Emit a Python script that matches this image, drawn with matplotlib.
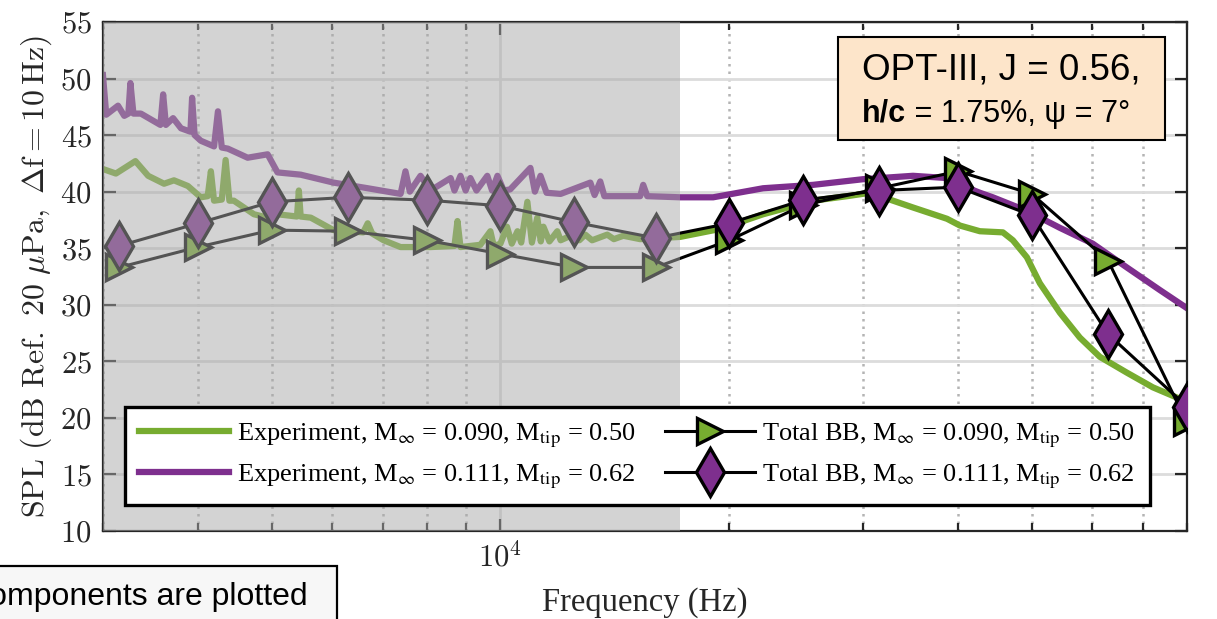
import matplotlib
matplotlib.use('Agg')
import matplotlib.pyplot as plt
from matplotlib.ticker import FuncFormatter, NullFormatter, LogLocator, FixedLocator
from matplotlib.patches import Rectangle

plt.rcParams['mathtext.fontset'] = 'cm'
plt.rcParams['font.family'] = ['Liberation Serif', 'DejaVu Serif']

# Experiment, M = 0.090 (green)
f_exp090 = [3000, 3120, 3310, 3440, 3610, 3720, 3880, 4035, 4120, 4160, 4200, 4300, 4350, 4400,
            4460, 4740, 4940, 5090, 5400, 5430, 5460, 5630, 6030, 6600, 6690, 6780, 7020, 7390,
            8090, 8700, 8780, 8860, 9410, 9700, 9800, 10000, 10200, 10350, 10530, 10650, 10850,
            11000, 11180, 11300, 11390, 11600, 11880, 12000, 12470, 12700, 12930, 13200, 13820,
            14100, 14510, 15270, 17240, 19450, 22160, 25780, 28580, 30640, 32850,
            34890, 38680, 40230, 42730, 45810, 47220, 49260, 51240, 54440, 57830, 61440, 66680,
            72150, 77570, 80000]
spl_exp090 = [42.0, 41.6, 42.7, 41.4, 40.7, 41.0, 40.5, 39.5, 39.6, 41.8, 39.2, 39.3, 42.8, 39.2,
              39.2, 38.0, 37.7, 38.0, 37.8, 40.1, 37.8, 37.7, 36.6, 36.4, 37.2, 36.3, 35.7, 35.1,
              35.1, 35.2, 37.4, 35.1, 35.3, 36.5, 35.2, 35.4, 36.9, 35.4, 36.5, 35.5, 39.1,
              35.5, 37.7, 35.6, 36.9, 35.6, 36.5, 35.7, 36.2, 35.7, 36.2, 35.7, 36.2,
              35.8, 36.1, 35.8, 36.0, 36.7, 38.0, 39.2, 39.6, 39.9, 39.2,
              38.6, 37.6, 37.0, 36.5, 36.4, 35.7, 34.2, 31.9, 29.3, 27.1, 25.4, 24.0,
              22.7, 21.8, 21.5]

# Experiment, M = 0.111 (purple)
f_exp111 = [3000, 3030, 3140, 3200, 3240, 3260, 3290, 3365, 3570, 3600, 3630, 3710, 3800, 3910,
            3930, 3960, 4035, 4200, 4250, 4300, 4380, 4650, 4940, 5090, 5460, 6030, 6690, 7390,
            7500, 7600, 7850, 8090, 8600, 8700, 8860, 9000, 9130, 9300, 9610, 9750, 9910, 10100,
            10300, 10950, 11100, 11290, 11500, 12000, 13130, 13300, 13530, 13700, 15270, 15410,
            15600, 17240, 19050, 22160, 25780, 30000, 34890, 38680, 40230, 42730, 44440, 49260,
            54440, 60150, 66680, 73700, 80000]
spl_exp111 = [50.3, 46.8, 47.6, 46.7, 46.9, 49.6, 46.9, 46.9, 45.9, 48.6, 45.9, 46.5, 45.6, 45.3,
              48.3, 45.0, 44.5, 44.0, 47.1, 43.9, 43.8, 43.0, 43.3, 41.7, 41.5, 40.8, 40.3, 39.8,
              41.8, 40.0, 41.4, 40.1, 41.2, 40.1, 41.4, 40.1, 41.2, 40.1, 41.4, 40.1, 41.4, 40.1,
              40.2, 42.1, 40.0, 41.4, 39.9, 39.8, 40.8, 39.7, 40.9, 39.6, 39.6, 40.6,
              39.6, 39.5, 39.5, 40.3, 40.6, 41.1, 41.4, 41.2, 40.6, 39.9, 39.5, 38.3,
              36.8, 35.4, 33.3, 31.3, 29.7]

# Total BB predictions at 1/3-octave band centres
f_bb = [3150, 4000, 5000, 6300, 8000, 10000, 12500, 16000, 20000, 25000, 31500, 40000,
        50000, 63000, 80000]
bb_090 = [33.3, 35.1, 36.6, 36.5, 35.7, 34.5, 33.3, 33.3, 35.7, 38.8, 40.3, 41.8, 39.8, 33.9, 19.6]
bb_111 = [35.2, 37.2, 39.1, 39.5, 39.25, 38.75, 37.3, 35.9, 37.2, 39.25, 40.1, 40.4, 37.9, 27.4, 21.0]

green = '#77AC30'
purple = '#7E2F8E'

fig = plt.figure(figsize=(12.17, 6.19), dpi=100)
ax = fig.add_axes([0.0846, 0.1422, 0.8907, 0.8223])

l1, = ax.plot(f_exp090, spl_exp090, color=green, lw=4.5, zorder=2,
              label=r'Experiment, M$_{\infty}$ = 0.090, M$_{\rm tip}$ = 0.50')
l2, = ax.plot(f_exp111, spl_exp111, color=purple, lw=4.5, zorder=2,
              label=r'Experiment, M$_{\infty}$ = 0.111, M$_{\rm tip}$ = 0.62')
l3, = ax.plot(f_bb, bb_090, color='k', lw=2.2, marker='>', ms=19, mfc=green, mec='k', mew=2.4,
              zorder=3, label=r'Total BB, M$_{\infty}$ = 0.090, M$_{\rm tip}$ = 0.50')
l4, = ax.plot(f_bb, bb_111, color='k', lw=2.2, marker='d', ms=24, mfc=purple, mec='k', mew=2.4,
              zorder=3, label=r'Total BB, M$_{\infty}$ = 0.111, M$_{\rm tip}$ = 0.62')

# shaded low-frequency region
ax.axvspan(3000, 17240, facecolor='#a8a8a8', alpha=0.5, lw=0, zorder=4)

ax.set_xscale('log')
ax.set_xlim(3000, 80000)
ax.set_ylim(10, 55)
ax.set_yticks(range(10, 56, 5))
ax.yaxis.set_major_formatter(FuncFormatter(lambda v, p: r'$%d$' % v))
ax.xaxis.set_major_locator(FixedLocator([10000]))
ax.xaxis.set_major_formatter(FuncFormatter(lambda v, p: r'$10^4$'))
ax.xaxis.set_minor_locator(LogLocator(base=10, subs=[2, 3, 4, 5, 6, 7, 8, 9], numticks=20))
ax.xaxis.set_minor_formatter(NullFormatter())

ax.set_axisbelow(True)
ax.grid(which='major', color='#dcdcdc', lw=2, ls='-')
ax.grid(which='minor', axis='x', color='#b4b4b4', lw=1.8, ls=(0, (1, 2)))

ax.tick_params(which='both', direction='in', top=True, right=True, color='#262626', width=1.6,
               labelsize=22, labelcolor='#262626')
ax.tick_params(which='major', length=9, pad=8)
ax.tick_params(which='minor', length=6)
for s in ax.spines.values():
    s.set_color('#262626')
    s.set_linewidth(1.6)

ax.set_ylabel(r'$\mathrm{SPL\ (dB\ Ref.\ 20\ }\mu\mathrm{Pa,\ }\Delta\mathrm{f = 10\,Hz)}$',
              fontsize=23, color='#262626', labelpad=5)
ax.set_xlabel('Frequency (Hz)', fontsize=23.5, color='#262626', labelpad=10)

leg = ax.legend(handles=[l1, l2, l3, l4], ncol=2, loc='lower left', bbox_to_anchor=(0.0203, 0.051),
                borderaxespad=0, fontsize=19, frameon=True, fancybox=False, edgecolor='k',
                framealpha=1, handlelength=3.4, columnspacing=1.1, borderpad=0.55,
                labelspacing=0.45, handletextpad=0.3)
leg.get_frame().set_linewidth(2.4)
leg.set_zorder(8)
for t in leg.get_texts():
    t.set_math_fontfamily('stix')

# annotation box
ax.add_patch(Rectangle((0.678, 0.768), 0.302, 0.2025, transform=ax.transAxes,
                       facecolor='#FDE5CA', edgecolor='k', lw=1.5, zorder=6))
ax.text(0.829, 0.905, 'OPT-III, J = 0.56,', transform=ax.transAxes, ha='center', va='center',
        fontsize=26.5, family='Liberation Sans', zorder=7)
t1 = ax.text(0.700, 0.790, 'h/c', transform=ax.transAxes, ha='left', va='bottom',
             fontsize=22, weight='bold', family='Liberation Sans', zorder=7)
ax.annotate(' = 1.75%, ψ = 7°', xy=(1, 0), xycoords=t1, ha='left', va='bottom',
            fontsize=22, family='Liberation Sans', zorder=7)

# clipped note box at bottom-left
fig.add_artist(Rectangle((-0.01, -0.05), 0.2869, 0.1356, transform=fig.transFigure,
                         facecolor='#f7f7f7', edgecolor='k', lw=1.6))
fig.text(0.2531, 0.0355, 'Components are plotted', ha='right', va='center',
         fontsize=23, family='Liberation Sans')

fig.savefig('out.png', dpi=100)
